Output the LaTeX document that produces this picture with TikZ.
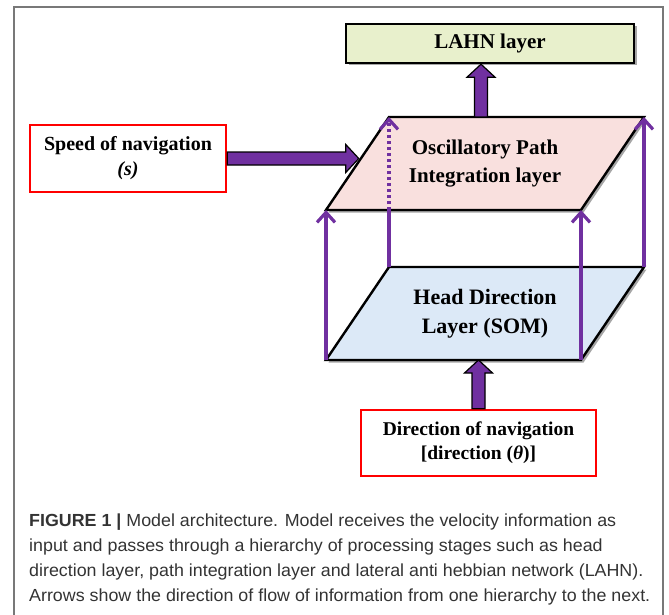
\documentclass[tikz,border=0pt]{standalone}
\usepackage{fontspec}
\setmainfont{Liberation Serif}
\newfontfamily\capfont[FakeStretch=1.02]{Liberation Sans}
\usetikzlibrary{calc,arrows.meta,shadows}
\definecolor{navpurple}{HTML}{7030A0}
\definecolor{oscpink}{RGB}{249,224,222}
\definecolor{hdblue}{RGB}{220,233,247}
\definecolor{lahngreen}{RGB}{232,240,204}
\definecolor{framegray}{RGB}{120,120,120}
% block arrow from #1 to #2
\newcommand{\bigarrow}[2]{%
  \coordinate (ba-base) at ($(#2)!13pt!(#1)$);
  \filldraw[big_arrow] ($(#1)!6.5pt!90:(#2)$) -- ($(ba-base)!6.5pt!-90:(#1)$)
    -- ($(ba-base)!14pt!-90:(#1)$) -- (#2) -- ($(ba-base)!14pt!90:(#1)$)
    -- ($(ba-base)!6.5pt!90:(#1)$) -- ($(#1)!6.5pt!-90:(#2)$) -- cycle;}
\begin{document}
\begin{tikzpicture}[x=1pt, y=-1pt,
layer_style/.style={draw=black, line width=2.4pt, line join=miter,
  drop shadow={shadow xshift=2.5pt, shadow yshift=-2.5pt, opacity=.35, fill=black}},
label_style/.style={align=center, inner sep=0pt},
input_style/.style={draw=red, line width=2.6pt, fill=white, align=center, inner sep=0pt},
lahn_style/.style={draw=black, line width=2.4pt, fill=lahngreen, minimum width=288pt, minimum height=39pt,
  inner sep=0pt, font=\fontsize{21}{26}\selectfont\bfseries,
  drop shadow={shadow xshift=2.5pt, shadow yshift=-2.5pt, opacity=.35, fill=black}},
thin_line/.style={draw=navpurple, line width=3.2pt},
thin_arrow/.style={thin_line, -{Straight Barb[length=10pt,width=18pt]}},
big_arrow/.style={fill=navpurple, draw=black, line width=1.2pt, line join=miter},
frame_style/.style={draw=framegray, line width=1.3pt},
caption_style/.style={align=left, inner sep=0pt, text=black!80,
  font=\capfont\fontsize{17.5}{25}\selectfont}]
\useasboundingbox (0,0) rectangle (669,615);
\draw[frame_style] (14,615) -- (14,7) -- (663,7) -- (663,615);
% corners of the two layers
\coordinate (osc-bl) at (326,210);
\coordinate (osc-tl) at (389,117);
\coordinate (osc-tr) at (644,117);
\coordinate (osc-br) at (581,210);
\coordinate (hd-bl) at (326,360);
\coordinate (hd-tl) at (389,267);
\coordinate (hd-tr) at (644,267);
\coordinate (hd-br) at (581,360);
\filldraw[layer_style, fill=oscpink] (osc-bl) -- (osc-tl) -- (osc-tr) -- (osc-br) -- cycle;
\filldraw[layer_style, fill=hdblue] (hd-bl) -- (hd-tl) -- (hd-tr) -- (hd-br) -- cycle;
% nodes
\node[lahn_style] (lahn) at (490,43.5) {LAHN layer};
\node[label_style, font=\fontsize{21}{28}\selectfont\bfseries] (osc) at (485,163.5) {Oscillatory Path\\Integration layer};
\node[label_style, font=\fontsize{22}{29}\selectfont\bfseries] (hd) at (485,313.5) {Head Direction\\Layer (SOM)};
\node[input_style, minimum width=196pt, minimum height=67pt, font=\fontsize{20}{25}\selectfont\bfseries] (speed) at (128,158.5) {Speed of navigation\\\textit{(s)}};
\node[input_style, minimum width=235pt, minimum height=66pt, font=\fontsize{19.5}{24}\selectfont\bfseries] (dir) at (478.5,443) {Direction of navigation\\{}[direction (\textit{θ})]};
% thin arrows between the layers
\coordinate (osc-mid) at (osc-bl -| osc-tl);
\draw[thin_arrow] (hd-bl) -- (osc-bl);
\draw[thin_line] (hd-tl) -- (osc-mid);
\draw[thin_arrow, dash pattern=on 3pt off 3pt] (osc-mid) -- (osc-tl);
\draw[thin_arrow] (hd-br) -- (osc-br);
\draw[thin_arrow] (hd-tr) -- (osc-tr);
% block arrows
\coordinate (osc-out) at (481,117);
\coordinate (lahn-in) at (lahn.south -| osc-out);
\coordinate (osc-edge) at ($(osc-bl)!0.52!(osc-tl)$);
\coordinate (osc-in) at (speed.east -| osc-edge);
\coordinate (hd-in) at (dir.north |- hd-bl);
\bigarrow{osc-out}{lahn-in}
\bigarrow{speed.east}{osc-in}
\bigarrow{dir.north}{hd-in}
% caption
\node[caption_style, anchor=north west] (caption) at (29,514) {\textbf{FIGURE 1 |} Model architecture. Model receives the velocity information as\\
input and passes through a hierarchy of processing stages such as head\\
direction layer, path integration layer and lateral anti hebbian network (LAHN).\\
Arrows show the direction of flow of information from one hierarchy to the next.};
\end{tikzpicture}
\end{document}
